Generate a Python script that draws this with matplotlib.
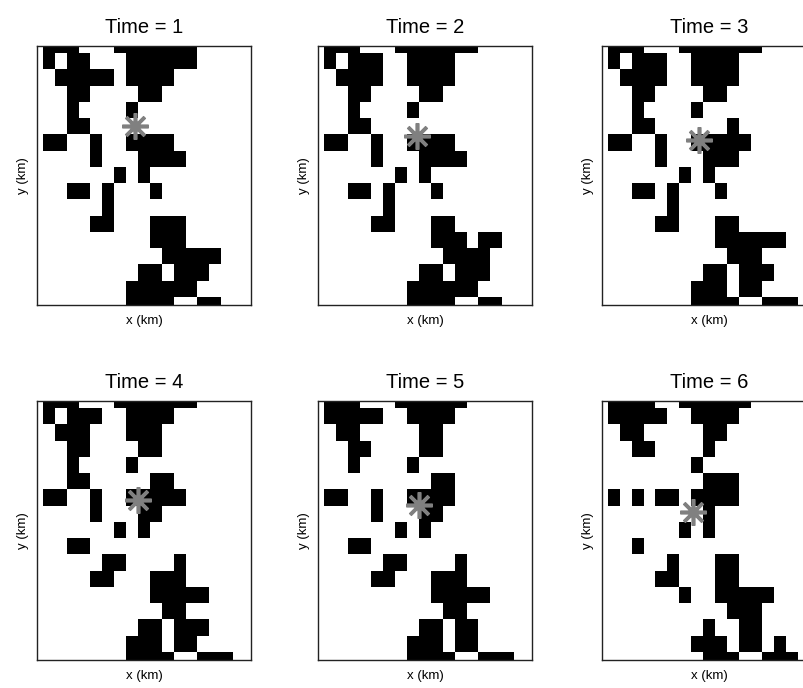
import matplotlib
matplotlib.use("Agg")
import matplotlib.pyplot as plt
import numpy as np

plt.rcParams["font.family"] = ["Liberation Sans", "DejaVu Sans"]

# occupancy grids, 17 rows (top -> bottom) x 19 columns, '#' = occupied cell
grid_t1 = [
    ".###...#######.....",
    ".#.##...######.....",
    "..#####.####.......",
    "...##....##........",
    "...#....#..........",
    "...##..............",
    ".##..#..####.......",
    ".....#...####......",
    ".......#.#.........",
    "...##.#...#........",
    "......#............",
    ".....##...###......",
    "..........###......",
    "...........#####...",
    ".........##.###....",
    "........######.....",
    "........####..##...",
]
grid_t2 = [
    ".###...#######.....",
    ".#.###..####.......",
    "..####..####.......",
    "...##....##........",
    "...#....#..........",
    "...##..............",
    ".##..#..####.......",
    ".....#...####......",
    ".......#.#.........",
    "...##.#...#........",
    "......#............",
    ".....##...##.......",
    "..........###.##...",
    "...........####....",
    ".........##.###....",
    "........######.....",
    "........####..##...",
]
grid_t3 = [
    ".###...#######.....",
    ".#.###..####.......",
    "..####..####.......",
    "...##....##........",
    "...#....#..........",
    "...##......#.......",
    ".##..#..#####......",
    ".....#...###.......",
    ".......#.#.........",
    "...##.#...#........",
    "......#............",
    ".....##...##.......",
    "..........######...",
    "...........###.....",
    ".........##.###....",
    "........###.##.....",
    "........####..###..",
]
grid_t4 = [
    ".###...#######.....",
    ".#.###..####.......",
    "..###...###........",
    "...##....##........",
    "...#....#..........",
    "...##.....##.......",
    ".##..#..#####......",
    ".....#...##........",
    ".......#.#.........",
    "...##..............",
    "......##....#......",
    ".....##...###......",
    "..........#####....",
    "...........##......",
    ".........##.###....",
    "........###.##.....",
    "........####..###..",
]
grid_t5 = [
    ".###...######......",
    ".#####..####.......",
    "..##.....##........",
    "...##....##........",
    "...#....#..........",
    "..........##.......",
    ".##..#..####.......",
    ".....#...##........",
    ".......#.#.........",
    "...##..............",
    "......##....#......",
    ".....##...###......",
    "..........#####....",
    "...........##......",
    ".........##.##.....",
    "........###.##.....",
    "........####..###..",
]
grid_t6 = [
    ".####..######......",
    ".#####..####.......",
    "..##.....##........",
    "...##....#.........",
    "........#..........",
    ".........###.......",
    ".#.#.##.####.......",
    ".........#.........",
    ".......#.#.........",
    "...#...............",
    "......#...##.......",
    ".....##...##.......",
    ".......#..#####....",
    "...........###.....",
    ".........#..##.....",
    "........###.##.#...",
    ".........###..###..",
]

grids = [grid_t1, grid_t2, grid_t3, grid_t4, grid_t5, grid_t6]
times = [1, 2, 3, 4, 5, 6]

# source position (km) at each time step
star_x = [8.24, 8.29, 8.18, 8.52, 8.51, 7.63]
star_y = [11.06, 10.46, 10.19, 9.88, 9.58, 9.12]

fig = plt.figure(figsize=(8.04, 6.88), dpi=100)

lefts = [0.046, 0.396, 0.749]
bottoms = [0.5567, 0.0407]
w, h = 0.266, 0.3765

for k, (grid, t) in enumerate(zip(grids, times)):
    ax = fig.add_axes([lefts[k % 3], bottoms[k // 3], w, h])
    z = np.array([[1 if ch == "#" else 0 for ch in row] for row in grid])
    nrow, ncol = z.shape
    ax.imshow(z, cmap="gray_r", vmin=0, vmax=1, origin="upper",
              extent=(-0.5, ncol - 0.5, -0.5, nrow - 0.5),
              aspect="auto", interpolation="nearest")
    ax.plot(star_x[k], star_y[k], marker=(8, 2, 0), color="#808080",
            markersize=19, markeredgewidth=2.6, linestyle="none")
    ax.set_xlim(0, ncol - 1)
    ax.set_ylim(0, nrow - 1)
    ax.set_xticks([])
    ax.set_yticks([])
    for s in ax.spines.values():
        s.set_linewidth(1.0)
        s.set_color("#222222")
    ax.set_title("Time = %d" % t, fontsize=14.5, pad=9)
    ax.set_xlabel("x (km)", fontsize=9.5, labelpad=7)
    ax.set_ylabel("y (km)", fontsize=9.5, labelpad=6)

fig.savefig("out.png", dpi=100)
